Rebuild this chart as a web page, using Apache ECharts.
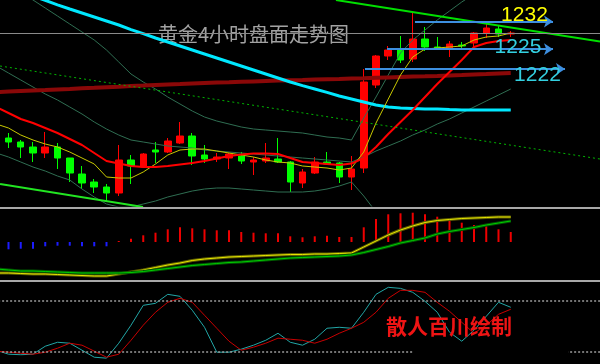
<!DOCTYPE html>
<html><head><meta charset="utf-8">
<script src="https://cdn.jsdelivr.net/npm/echarts/dist/echarts.min.js"></script>
<style>html,body{margin:0;padding:0;background:#000}#c{width:600px;height:364px}</style>
</head><body><div id="c"></div>
<script>
// ---- categories (bar numbers, not displayed) ----
const categories = ['1','2','3','4','5','6','7','8','9','10','11','12','13','14','15','16','17','18','19','20',
  '21','22','23','24','25','26','27','28','29','30','31','32','33','34','35','36','37','38','39','40',
  '41','42','43','44','45','46','47','48','49','50'];

// ---- 4h gold candles ----
const opens  = [1204.25,1203,1202,1200.75,1199.25,1200.75,1198,1194,1192,1190.75,1189.25,1197.5,1195.75,1200,1199.5,1201.75,1203.5,1198.75,1197.75,1198,1198.5,1197,1197.25,1197.75,1197,1191.75,1194.25,1197,1196.75,1193.25,1195.5,1216.25,1223.5,1225.25,1222.75,1227.75,1225.75,1225.5,1226.25,1226.75,1229.25,1230.25,1229];
const closes = [1203.25,1202,1200.75,1199.25,1200.75,1198,1194.25,1191.75,1190.75,1189.25,1197.5,1196,1199,1199.5,1202.25,1203.5,1198.5,1197.75,1198.25,1199,1197.25,1197.5,1198,1197,1192,1194.5,1197,1196.5,1193.25,1195.25,1217,1223.5,1225,1222.5,1227.75,1225.75,1225.25,1226.5,1226,1229.25,1230.5,1229,1229.25];
const lows   = [1202.5,1200.5,1198,1197,1198,1195.25,1192,1190.25,1189.25,1187.25,1188.5,1191.5,1195.5,1196.75,1199.25,1201.5,1196.25,1196.75,1197,1195.25,1196.5,1193.75,1196.75,1196.75,1189.5,1190.5,1194,1196.25,1191.75,1190,1194.25,1215.5,1222.5,1221.75,1222,1224.75,1225,1223.25,1225.5,1225.5,1228,1228.25,1228.25];
const highs  = [1204.75,1204.25,1202.5,1202,1204.5,1201.75,1198,1196,1192.75,1191.5,1201.25,1198.75,1199.25,1202,1203,1207,1204.25,1201.25,1199.25,1199.25,1199.5,1198.25,1201.75,1203,1197.25,1195.25,1198.25,1199.5,1197,1198.5,1220.25,1223.75,1226,1228.5,1234.5,1230.75,1228.25,1227.25,1227,1229.5,1231.75,1231.25,1229.75];

// ---- main panel indicator lines ----
const maCyan    = [1241.5,1240.5,1239.5,1238.5,1237.4,1236.3,1235.25,1234.25,1233.25,1232.25,1231.25,1230.1,1229.1,1228,1227,1226,1225,1224,1223,1222,1221,1220,1219,1218,1217,1216.1,1215.25,1214.4,1213.5,1212.75,1212,1211.25,1210.75,1210.5,1210.4,1210.25,1210.25,1210.1,1210,1210,1210,1210,1210];
const maDarkRed = [1214.45,1214.6,1214.75,1214.88,1215,1215.15,1215.28,1215.43,1215.55,1215.7,1215.83,1215.98,1216.1,1216.25,1216.38,1216.5,1216.65,1216.78,1216.88,1216.95,1217.05,1217.15,1217.25,1217.35,1217.43,1217.5,1217.6,1217.7,1217.78,1217.88,1217.95,1218.05,1218.15,1218.25,1218.35,1218.43,1218.53,1218.65,1218.75,1218.88,1219,1219.13,1219.25];
const maRed     = [1210.75,1209.25,1207.75,1206.75,1205.5,1204.25,1202.75,1201.25,1199.25,1197.25,1196.6,1196,1195.75,1195.75,1196,1196.4,1196.75,1197.25,1197.9,1198.5,1198.9,1199.1,1199.1,1199,1198,1197,1196.75,1196.5,1196.25,1196.6,1198,1200.75,1204,1207,1210,1213.25,1216.5,1219.5,1222.5,1225.75,1226.75,1227.25,1227.5];
const maYellow  = [1206.5,1205.5,1203.75,1202.5,1201.5,1200.75,1199.5,1198,1196.5,1193.25,1193,1193,1194.5,1196.5,1198.75,1200,1200.25,1200.25,1199.75,1199.25,1198.75,1198.25,1197.5,1197,1196.75,1196,1195.75,1195.5,1195,1195.5,1199.5,1206.75,1212.75,1218.75,1223.25,1225.25,1225.5,1225.75,1226,1227.5,1228.25,1228.5,1229.25];
const bbUpper   = [1243.5,1241.5,1239.5,1237.5,1235.5,1233.5,1231.5,1229.5,1227.5,1225,1222,1219,1217,1215.25,1213.25,1211.5,1209.75,1208.25,1207.25,1206.5,1205.75,1205.25,1205,1204.75,1204.5,1204.25,1203.75,1203.25,1203,1202.5,1208,1213.25,1218.75,1224.25,1227.5,1230,1232.5,1234.75,1237,1239,1241,1243,1245];
const bbMid     = [1221,1219.25,1217.5,1215.75,1214,1212.5,1210.75,1209,1207,1205.25,1203.75,1202.5,1202,1201.5,1201,1200.75,1200.5,1200,1199.75,1199.5,1199.25,1199,1198.75,1198.5,1198.25,1198,1197.75,1197.5,1197.25,1197,1198.25,1199.75,1201,1202.25,1203.75,1205,1206.5,1207.75,1209.25,1210.75,1212.25,1213.75,1215.25];
const bbLower   = [1199.25,1198.25,1197,1195.75,1194.75,1193.5,1192.5,1190.25,1188.25,1186.5,1185.75,1185.75,1186.5,1187.25,1188.25,1189,1189.75,1190.25,1190.5,1190.5,1190.25,1190,1189.75,1189.5,1189.5,1189.5,1189.75,1190.25,1191,1192,1188.5,1184.5,1181.25,1178.75,1177,1176.25,1175.75,1175.5,1175.5,1176,1176.5,1177.25,1178];

// ---- drawn trend lines: [barPos, price] endpoints ----
const trendTop = [[26.73, 1237.5], [48.29, 1227.125]];
const trendMid = [[-0.69, 1221], [48.29, 1197.75]];
const trendLow = [[-0.69, 1191.5], [10.98, 1185.75]];

// ---- level arrows ----
const levelText  = ['1232', '1225', '1222'];
const levelPrice = [1232.1, 1225.2, 1220.25];
const levelFrom  = [33.18, 30.9, 29.1];
const levelTo    = [44.45, 44.45, 45.43];
const levelLabelPos = [[42.12, 1233.75], [41.59, 1225.6], [43.18, 1218.6]];
const levelColor = ['#ffff00', '#33d0e0', '#33d0e0'];

// ---- MACD panel ----
const macdHist   = [-0.75,-0.73,-0.67,-0.67,-0.43,-0.37,-0.37,-0.43,-0.43,-0.43,0.1,0.33,0.67,0.93,1.27,1.47,1.37,1.27,1.17,1.17,1.0,0.93,0.87,0.87,0.57,0.47,0.57,0.63,0.5,0.5,1.47,2.3,2.77,2.87,2.93,2.77,2.53,2.2,1.93,1.7,1.57,1.27,1.0];
const macdYellow = [-3.1,-3.1,-3.15,-3.2,-3.2,-3.25,-3.3,-3.35,-3.4,-3.4,-3.2,-3.0,-2.8,-2.55,-2.3,-2.1,-1.85,-1.7,-1.6,-1.5,-1.45,-1.4,-1.35,-1.3,-1.25,-1.25,-1.2,-1.2,-1.15,-1.1,-0.5,0.1,0.7,1.2,1.6,1.95,2.15,2.25,2.35,2.4,2.45,2.5,2.5];
const macdGreen  = [-2.7,-2.8,-2.9,-2.9,-2.95,-3.0,-3.05,-3.1,-3.1,-3.1,-3.1,-3.05,-2.95,-2.8,-2.65,-2.5,-2.35,-2.25,-2.15,-2.05,-2.0,-1.9,-1.8,-1.7,-1.6,-1.55,-1.5,-1.45,-1.4,-1.3,-1.05,-0.75,-0.45,-0.1,0.15,0.4,0.8,1.05,1.25,1.45,1.7,1.9,2.1];

// ---- stochastic panel ----
const stochK = [22.3,17.7,17.1,17.7,26.9,31.5,30.4,22.3,14.2,13.1,30.4,51.2,74.2,76.5,86.9,84.6,68.5,48.8,20,20,23.5,28.1,33.8,41.9,31.5,28.1,35,47.7,48.8,47.7,66.2,86.9,95,93.8,89.2,78.8,66.2,43.1,32.7,45.4,61.5,77.7,71.9];
const stochD = [21.2,20,18.8,17.7,20,24.6,30.4,28.1,21.2,14.2,17.7,33.8,51.2,66.2,77.7,82.3,77.7,62.7,47.7,32.7,22.3,25.8,30.4,36.2,35,33.8,30.4,35,41.9,47.7,54.6,66.2,82.3,91.5,91.5,89.2,77.7,67.3,54.6,41.9,51.2,63.8,69.6];
const stochLevels = [20, 80];

const titleText = '黄金4小时盘面走势图';
const signText = '散人百川绘制';

// ---------------------------------------------------------
const chart = echarts.init(document.getElementById('c'));
const GL = -9.875, GW = 612.5;
const ohlc = opens.map((o, k) => [o, closes[k], lows[k], highs[k]]);
const hidden = { show: false };
function ln(data, color, width, xi, yi, extra) {
  return Object.assign({ type: 'line', data, xAxisIndex: xi, yAxisIndex: yi, symbol: 'none', showSymbol: false,
    silent: true, clip: true, lineStyle: { color, width }, z: 3 }, extra || {});
}

chart.setOption({
  animation: false,
  backgroundColor: '#000000',
  grid: [
    { left: GL, top: 0, width: GW, height: 206, outerBoundsMode: 'none' },
    { left: GL, top: 208, width: GW, height: 73, show: true, borderColor: '#a8a8a8', borderWidth: 2, backgroundColor: 'transparent', outerBoundsMode: 'none' },
    { left: GL, top: 283, width: GW, height: 86.5, outerBoundsMode: 'none' }
  ],
  xAxis: [
    { type: 'category', gridIndex: 0, data: categories, boundaryGap: true, show: false },
    { type: 'value', gridIndex: 0, min: -1.5, max: 48.5, show: false },
    { type: 'category', gridIndex: 1, data: categories, boundaryGap: true, show: false },
    { type: 'category', gridIndex: 2, data: categories, boundaryGap: true, show: false }
  ],
  yAxis: [
    { type: 'value', gridIndex: 0, min: 1186, max: 1237.5, show: false, splitLine: hidden },
    { type: 'value', gridIndex: 1, min: -3.9, max: 3.4, show: false, splitLine: hidden },
    { type: 'value', gridIndex: 2, min: 0, max: 100, show: false, splitLine: hidden }
  ],
  graphic: [
    { type: 'text', left: 158, top: 24, z: 0, silent: true,
      style: { text: titleText, fill: '#a2a2a2', font: '20px "Noto Sans CJK SC"' } },
    { type: 'rect', shape: { x: 413, y: 344, width: 155, height: 20 }, style: { fill: '#000' }, z: 100, silent: true },
    { type: 'text', left: 386, top: 316, z: 101, silent: true,
      style: { text: signText, fill: '#ee1414', font: 'bold 21px "Noto Sans CJK SC"' } }
  ],
  series: [
    { type: 'candlestick', xAxisIndex: 0, yAxisIndex: 0, data: ohlc, barWidth: 7, silent: true, z: 2,
      itemStyle: { color: '#ff0000', color0: '#00ff00', borderColor: '#ff0000', borderColor0: '#00ff00', borderWidth: 1 },
      markLine: { silent: true, symbol: ['none', 'none'], label: { show: false },
        lineStyle: { color: '#8a8a8a', width: 1, type: 'solid' },
        data: [{ yAxis: closes[closes.length - 1] }] } },
    ln(bbUpper, '#2f6e52', 1, 0, 0),
    ln(bbMid, '#2f6e52', 1, 0, 0),
    ln(bbLower, '#2f6e52', 1, 0, 0),
    ln(maDarkRed, '#8a0808', 4, 0, 0),
    ln(maCyan, '#00e8ff', 3, 0, 0),
    ln(maYellow, '#c8c800', 1, 0, 0),
    ln(maRed, '#ff0000', 2, 0, 0),
    ln(trendTop, '#00e000', 2, 1, 0),
    ln(trendMid, '#00b400', 1, 1, 0, { lineStyle: { color: '#00b400', width: 1, type: [2, 3] } }),
    ln(trendLow, '#22e622', 2, 1, 0),
    { type: 'scatter', xAxisIndex: 1, yAxisIndex: 0, symbolSize: 0, silent: true, z: 5,
      itemStyle: { opacity: 1 },
      data: levelText.map((t, k) => ({ name: t, value: levelLabelPos[k], label: { color: levelColor[k], opacity: 1 } })),
      label: { show: true, position: 'inside', formatter: '{b}', fontSize: 21, fontFamily: 'Liberation Sans', opacity: 1 },
      markLine: { silent: true, symbol: ['none', 'arrow'], symbolSize: 9, label: { show: false },
        lineStyle: { color: '#3d8fe0', width: 2, type: 'solid', opacity: 1 },
        data: levelText.map((t, k) => [{ coord: [levelFrom[k], levelPrice[k]] }, { coord: [levelTo[k], levelPrice[k]] }]) } },
    // MACD
    { type: 'bar', xAxisIndex: 2, yAxisIndex: 1, data: macdHist, barWidth: 2, silent: true,
      itemStyle: { color: p => (p.value < 0 ? '#1c1cff' : '#ee0000') } },
    ln(macdYellow, '#606000', 3, 2, 1),
    ln(macdYellow, '#e6e600', 1, 2, 1),
    ln(macdGreen, '#005800', 3, 2, 1),
    ln(macdGreen, '#00cc00', 1, 2, 1),
    // Stochastic
    ln(stochK, '#22a6a6', 1, 3, 2, {
      markLine: { silent: true, symbol: ['none', 'none'], label: { show: false },
        lineStyle: { color: '#9a9a9a', width: 1.5, type: [2, 2] },
        data: stochLevels.map(v => ({ yAxis: v })) } }),
    ln(stochD, '#c80000', 1, 3, 2)
  ]
});
</script>
</body></html>
